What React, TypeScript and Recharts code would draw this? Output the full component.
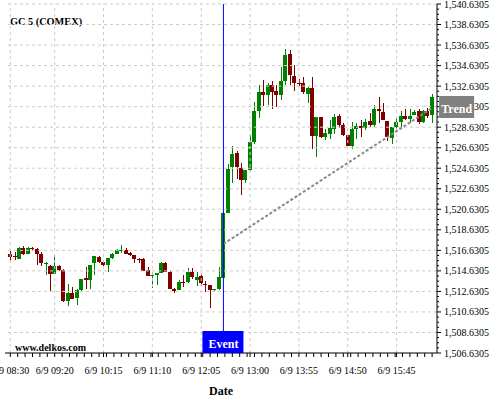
import React from "react";
import { ComposedChart, Bar, XAxis, YAxis, ReferenceLine } from "recharts";

const FONT = "'Liberation Serif', 'Times New Roman', serif";
const UP = "#008000";
const DOWN = "#800000";

// 5-minute candles, 6/9 08:30 .. 16:25
const OPEN = [
  1516.26, 1516.1, 1515.8, 1516.9, 1516.3, 1516.9, 1516.77, 1516.25, 1515.3, 1515.1,
  1514.3, 1515.1, 1514.7, 1511.7, 1512.5, 1512.0, 1512.75, 1513.95, 1513.7, 1515.35,
  1516.0, 1515.5, 1515.2, 1515.85, 1516.3, 1516.65, 1516.7, 1516.4, 1516.15, 1515.8,
  1515.75, 1514.7, 1514.15, 1514.25, 1514.4, 1515.4, 1514.55, 1512.9, 1512.8, 1513.55,
  1513.55, 1514.55, 1513.7, 1514.1, 1513.4, 1513.25, 1512.75, 1512.85, 1513.9, 1520.3,
  1524.71, 1526.08, 1524.65, 1523.48, 1524.45, 1527.18, 1530.23, 1532.05, 1531.78, 1532.76,
  1532.2, 1531.78, 1533.1, 1535.76, 1533.6, 1532.96, 1532.96, 1531.9, 1532.44, 1527.77,
  1529.59, 1527.7, 1527.96, 1528.48, 1529.72, 1528.87, 1527.83, 1526.79, 1528.48, 1528.74,
  1528.55, 1529.26, 1528.87, 1530.43, 1530.1, 1529.26, 1527.57, 1528.61, 1529.13, 1529.72,
  1529.46, 1529.8, 1530.23, 1529.13, 1530.23, 1529.8,
];
const HIGH = [
  1516.58, 1516.5, 1517.0, 1517.1, 1517.0, 1517.0, 1516.9, 1516.5, 1515.5, 1515.2,
  1516.2, 1515.2, 1514.77, 1513.4, 1513.02, 1512.9, 1513.8, 1515.0, 1515.2, 1516.1,
  1516.1, 1515.55, 1515.9, 1516.35, 1516.75, 1517.2, 1516.9, 1516.45, 1516.2, 1515.85,
  1515.85, 1515.05, 1514.55, 1514.45, 1515.5, 1515.45, 1514.6, 1512.95, 1513.75, 1514.2,
  1514.95, 1514.95, 1514.5, 1514.35, 1513.65, 1513.3, 1512.9, 1515.0, 1520.35, 1525.04,
  1526.8, 1526.3, 1525.1, 1524.5, 1527.9, 1531.1, 1532.7, 1533.2, 1532.96, 1533.1,
  1532.7, 1534.46, 1536.21, 1536.15, 1534.66, 1533.3, 1533.5, 1532.57, 1533.49, 1529.65,
  1529.65, 1528.47, 1529.32, 1529.91, 1529.91, 1529.0, 1527.9, 1529.13, 1529.0, 1529.32,
  1529.39, 1530.04, 1530.76, 1531.54, 1531.01, 1529.26, 1528.61, 1529.52, 1530.23, 1530.37,
  1530.43, 1530.3, 1530.36, 1530.3, 1530.5, 1531.86,
];
const LOW = [
  1515.6, 1515.65, 1515.75, 1516.2, 1516.25, 1516.6, 1515.2, 1515.15, 1514.2, 1512.7,
  1514.3, 1514.6, 1511.58, 1511.2, 1511.9, 1511.3, 1512.7, 1512.9, 1512.9, 1514.2,
  1515.4, 1515.1, 1514.5, 1515.8, 1516.25, 1516.4, 1516.25, 1516.1, 1515.4, 1515.4,
  1514.65, 1514.1, 1513.0, 1513.3, 1514.4, 1514.5, 1512.85, 1512.5, 1512.75, 1513.1,
  1513.45, 1513.85, 1513.2, 1513.2, 1512.6, 1511.05, 1512.65, 1512.8, 1513.85, 1520.23,
  1523.2, 1523.6, 1521.98, 1523.2, 1524.4, 1527.0, 1529.5, 1530.7, 1530.82, 1530.4,
  1530.62, 1531.27, 1532.71, 1532.71, 1532.12, 1532.6, 1531.85, 1530.95, 1526.47, 1525.75,
  1527.6, 1527.37, 1527.44, 1528.0, 1528.54, 1527.76, 1526.75, 1526.53, 1527.5, 1527.7,
  1528.35, 1528.67, 1528.67, 1529.0, 1529.32, 1527.31, 1526.99, 1528.42, 1528.67, 1529.32,
  1529.0, 1529.78, 1528.9, 1529.0, 1529.52, 1529.06,
];
const CLOSE = [
  1515.94, 1516.0, 1516.85, 1516.3, 1516.85, 1516.77, 1516.3, 1515.35, 1515.4, 1514.3,
  1515.1, 1514.7, 1511.7, 1512.5, 1511.9, 1512.75, 1513.8, 1513.7, 1515.2, 1516.05,
  1515.5, 1515.2, 1515.85, 1516.3, 1516.65, 1516.7, 1516.3, 1516.15, 1515.75, 1515.75,
  1514.65, 1514.1, 1514.2, 1514.4, 1515.4, 1514.55, 1512.9, 1512.65, 1513.55, 1513.5,
  1514.5, 1514.0, 1514.05, 1513.45, 1513.35, 1512.8, 1512.85, 1514.0, 1520.3, 1524.52,
  1526.01, 1524.77, 1523.48, 1524.45, 1527.18, 1530.23, 1532.05, 1531.73, 1532.76, 1532.05,
  1531.73, 1533.1, 1535.69, 1533.68, 1532.96, 1532.9, 1532.05, 1532.44, 1527.77, 1529.59,
  1527.7, 1528.02, 1528.55, 1529.59, 1528.87, 1527.9, 1526.79, 1528.48, 1528.74, 1528.55,
  1529.13, 1528.87, 1530.37, 1530.23, 1529.33, 1527.64, 1528.61, 1529.13, 1529.72, 1529.46,
  1529.72, 1530.1, 1529.13, 1530.23, 1529.72, 1531.6,
];

const TIME_LABELS = ["6/9 08:30", "6/9 09:20", "6/9 10:15", "6/9 11:10", "6/9 12:05", "6/9 13:00", "6/9 13:55", "6/9 14:50", "6/9 15:45"];
const LABEL_INDEX = [0, 10, 21, 32, 43, 54, 65, 76, 87];
const PRICE_TICKS = [
  1506.6305, 1508.6305, 1510.6305, 1512.6305, 1514.6305, 1516.6305, 1518.6305, 1520.6305, 1522.6305,
  1524.6305, 1526.6305, 1528.6305, 1530.6305, 1532.6305, 1534.6305, 1536.6305, 1538.6305, 1540.6305,
];
const EVENT_INDEX = 48;
const TREND_FROM = { i: 48, v: 1517.25 };
const TREND_TO = { i: 95, v: 1530.5 };

const candles = OPEN.map((o, i) => ({ i, o, h: HIGH[i], l: LOW[i], c: CLOSE[i], range: [LOW[i], HIGH[i]] }));

// minor ticks: every 0.5 on price, every 5/3 candle on time
const priceMinor: number[] = [];
for (let k = 0; k <= 68; k++) priceMinor.push(+(1506.6305 + k * 0.5).toFixed(4));
const timeTicks: number[] = [...LABEL_INDEX];
for (let k = 0; k * 5 / 3 <= 95.5; k++) {
  const t = (k * 5) / 3;
  if (!LABEL_INDEX.some((m) => Math.abs(m - t) < 0.05)) timeTicks.push(t);
}
timeTicks.sort((a, b) => a - b);

const fmtPrice = (v: number) => v.toLocaleString("en-US", { minimumFractionDigits: 4, maximumFractionDigits: 4 });

function Candle(props: any) {
  const { x, y, width, height, payload } = props;
  if (!payload) return null;
  const { o, c, h, l } = payload;
  const color = c >= o ? UP : DOWN;
  const k = h > l ? Math.abs(height) / (h - l) : 0;
  const top = y + (h - Math.max(o, c)) * k;
  const bh = Math.max(1, Math.abs(o - c) * k);
  const cx = Math.round(x + width / 2) + 0.5;
  return (
    <g shapeRendering="crispEdges">
      <line x1={cx} x2={cx} y1={y} y2={y + Math.abs(height)} stroke={color} strokeWidth={1} />
      <rect x={x} y={top} width={width} height={bh} fill={color} />
    </g>
  );
}

function PriceTick(props: any) {
  const { x, y, payload } = props;
  const v = payload.value;
  const r = (v - 1506.6305) / 2;
  const major = Math.abs(r - Math.round(r)) < 1e-6;
  return (
    <g>
      <line x1={x} x2={x + (major ? 4 : 2)} y1={y} y2={y} stroke="#000" />
      {major && (
        <text x={x + 7} y={y + 3.5} fontSize={10} fontFamily={FONT} fill="#000">
          {fmtPrice(v)}
        </text>
      )}
    </g>
  );
}

function TimeTick(props: any) {
  const { x, y, payload } = props;
  const li = LABEL_INDEX.indexOf(payload.value);
  return (
    <g>
      <line x1={x} x2={x} y1={y} y2={y + 4} stroke="#000" />
      {li >= 0 && (
        <text x={x} y={y + 21} textAnchor="middle" fontSize={10} fontFamily={FONT} fill="#000">
          {TIME_LABELS[li]}
        </text>
      )}
    </g>
  );
}

function EventLabel(props: any) {
  const { x, y, height } = props.viewBox;
  const bottom = y + height;
  return (
    <g>
      <rect x={x - 21} y={bottom - 22} width={41} height={22} fill="#0000ff" />
      <text x={x} y={bottom - 5} textAnchor="middle" fill="#fff" fontWeight="bold" fontSize={12} fontFamily={FONT}>
        Event
      </text>
    </g>
  );
}

function TrendLabel(props: any) {
  const vb = props.viewBox;
  const ex = vb.x + vb.width;
  const ey = vb.y;
  return (
    <g>
      <rect x={ex + 7} y={ey - 12} width={35} height={22} fill="#808080" />
      <text x={ex + 24.5} y={ey + 5} textAnchor="middle" fill="#fff" fontWeight="bold" fontSize={12} fontFamily={FONT}>
        Trend
      </text>
    </g>
  );
}

export default function App() {
  return (
    <div style={{ position: "fixed", left: 0, top: 0, width: 500, height: 400, background: "#fff" }}>
      <svg width={500} height={400} style={{ position: "absolute", left: 0, top: 0 }}>
        <text x={10} y={25} fontWeight="bold" fontSize={10.3} fontFamily={FONT} fill="#000">GC 5 (COMEX)</text>
        <text x={15} y={351} fontWeight="bold" fontSize={10} fontFamily={FONT} fill="#000">www.delkos.com</text>
      </svg>
      <ComposedChart width={500} height={400} data={candles} margin={{ top: 4, right: 0, bottom: 0, left: 5 }}>
        {PRICE_TICKS.slice(1).map((v) => (
          <ReferenceLine key={"h" + v} y={v} stroke="#cccccc" strokeDasharray="3 3" />
        ))}
        {LABEL_INDEX.map((t) => (
          <ReferenceLine key={"v" + t} x={t} stroke="#cccccc" strokeDasharray="3 3" />
        ))}
        <XAxis
          type="number"
          dataKey="i"
          domain={[-1.19, 96.1]}
          allowDataOverflow
          ticks={timeTicks}
          interval={0}
          tick={TimeTick}
          tickLine={false}
          tickSize={0}
          tickMargin={0}
          height={47}
          axisLine={{ stroke: "#000" }}
          label={{ value: "Date", position: "insideBottom", offset: 5, style: { fontWeight: "bold", fontSize: 12, fontFamily: FONT, fill: "#000" } }}
        />
        <YAxis
          orientation="right"
          type="number"
          domain={[1506.6305, 1540.6305]}
          allowDataOverflow
          ticks={priceMinor}
          interval={0}
          tick={PriceTick}
          tickLine={false}
          tickSize={0}
          tickMargin={0}
          width={63}
          axisLine={{ stroke: "#000" }}
          zIndex={400}
        />
        <Bar dataKey="range" barSize={4} shape={Candle} isAnimationActive={false} />
        <ReferenceLine
          segment={[{ x: TREND_FROM.i, y: TREND_FROM.v }, { x: TREND_TO.i, y: TREND_TO.v }]}
          stroke="#888888"
          strokeWidth={2}
          strokeDasharray="3 2"
          label={TrendLabel}
          zIndex={2000}
        />
        <ReferenceLine x={EVENT_INDEX} stroke="#0000ff" strokeWidth={1} label={EventLabel} zIndex={2000} />
      </ComposedChart>
    </div>
  );
}
